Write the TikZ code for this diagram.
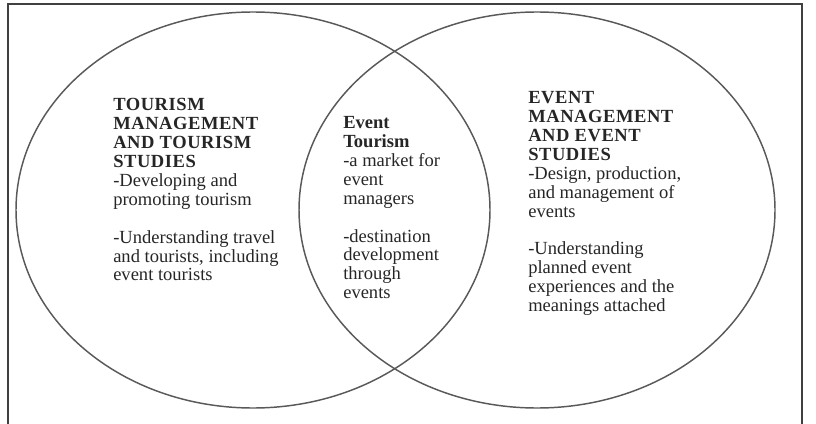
\documentclass[tikz,border=0pt]{standalone}
\usepackage{fontspec}
\setmainfont{Liberation Serif}
\newfontfamily\capsfont[LetterSpace=3]{Liberation Serif}
\usepackage{tikz}
\newcommand\hd[1]{{\capsfont\bfseries #1}}

\begin{document}
\begin{tikzpicture}[x=0.75pt,y=-0.75pt,font=\fontsize{13.9}{14.2}\selectfont]
    \tikzstyle{ring}=[draw=black!65, line width=1.1pt]
    \tikzstyle{block}=[anchor=north west, inner sep=0pt, align=left, text=black!85]
    \useasboundingbox (0,0) rectangle (816,424);
    \draw[black!75, line width=1.9pt] (8,424) -- (8,4) -- (802,4) -- (802,424);
    \draw[ring] (253,210) ellipse [x radius=237, y radius=198];
    \draw[ring] (537,210) ellipse [x radius=238, y radius=198];
    \node[block] (tourism) at (113,98) {\hd{TOURISM}\\ \hd{MANAGEMENT}\\ \hd{AND TOURISM}\\ \hd{STUDIES}\\
        -Developing and\\ promoting tourism\\[14.2pt]
        -Understanding travel\\ and tourists, including\\ event tourists};
    \node[block] (eventtourism) at (343,116) {\textbf{Event}\\ \textbf{Tourism}\\ -a market for\\ event\\ managers\\[14.2pt]
        -destination\\ development\\ through\\ events};
    \node[block] (eventstudies) at (528,91) {\hd{EVENT}\\ \hd{MANAGEMENT}\\ \hd{AND EVENT}\\ \hd{STUDIES}\\
        -Design, production,\\ and management of\\ events\\[14.2pt]
        -Understanding\\ planned event\\ experiences and the\\ meanings attached};
\end{tikzpicture}
\end{document}
